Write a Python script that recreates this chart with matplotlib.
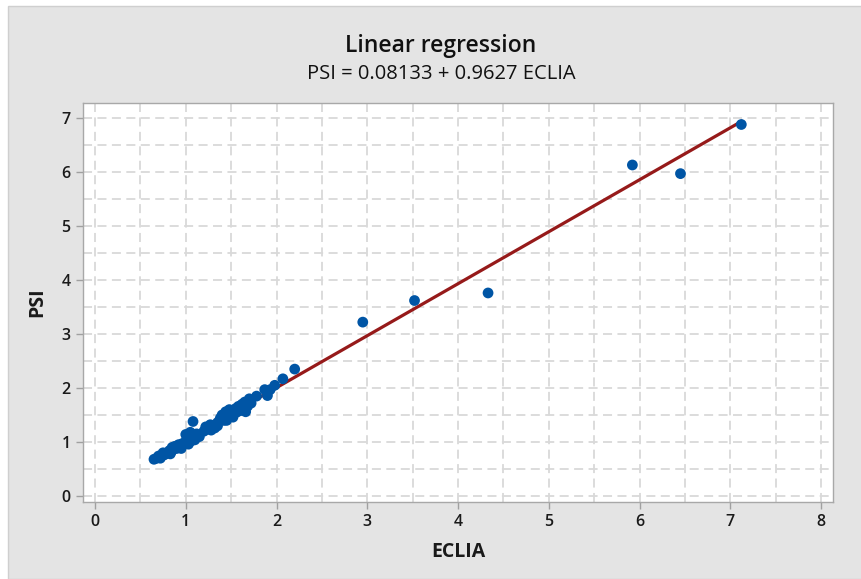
import numpy as np
import matplotlib.pyplot as plt
from matplotlib.patches import Rectangle

plt.rcParams['font.family'] = ['Open Sans', 'DejaVu Sans']

# ECLIA vs PSI readings
eclia = [0.65, 0.68, 0.70, 0.73, 0.76, 0.78, 0.80, 0.82, 0.84, 0.85,
         0.86, 0.88, 0.90, 0.92, 0.94, 0.96, 0.98, 1.00, 1.01, 1.02,
         1.04, 1.05, 1.06, 1.08, 1.08, 1.10, 1.12, 1.20, 1.22, 1.25,
         1.27, 1.30, 1.32, 1.35, 1.40, 1.42, 1.44, 1.46, 1.48, 1.50,
         1.52, 1.55, 1.56, 1.58, 1.60, 1.62, 1.64, 1.65, 1.68, 1.70,
         1.72, 1.78, 1.87, 1.90, 1.93, 1.98, 2.07, 2.20, 2.95, 3.52,
         4.33, 5.92, 6.45, 7.12,
         0.75, 0.83, 0.95, 1.03, 1.15, 1.28, 1.38, 1.45, 1.53, 1.63,
         1.66, 0.72, 1.00, 1.35]
psi = [0.68, 0.70, 0.74, 0.75, 0.76, 0.78, 0.80, 0.84, 0.82, 0.90,
       0.86, 0.92, 0.88, 0.95, 0.93, 0.97, 0.96, 1.00, 1.05, 1.12,
       1.08, 1.18, 1.02, 1.38, 1.10, 1.04, 1.15, 1.20, 1.28, 1.24,
       1.32, 1.30, 1.26, 1.36, 1.50, 1.40, 1.56, 1.48, 1.60, 1.52,
       1.46, 1.62, 1.55, 1.66, 1.58, 1.70, 1.60, 1.74, 1.66, 1.80,
       1.72, 1.85, 1.97, 1.86, 1.97, 2.05, 2.17, 2.35, 3.22, 3.62,
       3.76, 6.13, 5.97, 6.88,
       0.80, 0.78, 0.88, 0.96, 1.10, 1.22, 1.44, 1.40, 1.58, 1.64,
       1.56, 0.70, 1.14, 1.30]

intercept = 0.08133
slope = 0.9627

fig = plt.figure(figsize=(8.61, 5.79), dpi=100, facecolor='white')
# grey panel behind everything
fig.patches.append(Rectangle((8 / 861, 0), 1, 1 - 6 / 579, transform=fig.transFigure,
                             facecolor='#e4e4e4', edgecolor='#cfcfcf', lw=1, zorder=-10))

ax = fig.add_axes([83 / 861, 1 - 502 / 579, 750 / 861, 399 / 579])
ax.set_facecolor('white')

xx = np.array([min(eclia), max(eclia)])
ax.plot(xx, intercept + slope * xx, color='#961a1a', lw=2.3, zorder=2)
ax.scatter(eclia, psi, s=60, color='#0055a5', edgecolors='none', zorder=3)

ax.set_xlim(-0.132, 8.13)
ax.set_ylim(-0.111, 7.278)
ax.set_xticks(range(0, 9))
ax.set_yticks(range(0, 8))
ax.set_xticks(np.arange(0, 8.01, 0.5), minor=True)
ax.set_yticks(np.arange(0, 7.01, 0.5), minor=True)
ax.grid(True, which='both', color='#d9d9d9', ls=(0, (5, 3)), lw=1.3, zorder=0)
ax.tick_params(which='minor', length=0)
ax.tick_params(which='major', length=5, width=1, color='#a0a0a0',
               labelsize=11.5, labelcolor='#1a1a1a', pad=4)
for lab in ax.get_xticklabels() + ax.get_yticklabels():
    lab.set_fontweight('semibold')
for sp in ax.spines.values():
    sp.set_color('#a8a8a8')
    sp.set_linewidth(1)

ax.set_xlabel('ECLIA', fontsize=14, fontweight='bold', color='#1a1a1a', labelpad=8)
ax.set_ylabel('PSI', fontsize=14, fontweight='bold', color='#1a1a1a', labelpad=10)

fig.text(441 / 861, 1 - 46 / 579, 'Linear regression', ha='center', va='center',
         fontsize=16.5, fontweight='semibold', color='#111111')
fig.text(441 / 861, 1 - 74 / 579, 'PSI = 0.08133 + 0.9627 ECLIA', ha='center', va='center',
         fontsize=14.5, color='#111111')

fig.savefig('out.png', dpi=100, facecolor='white')
